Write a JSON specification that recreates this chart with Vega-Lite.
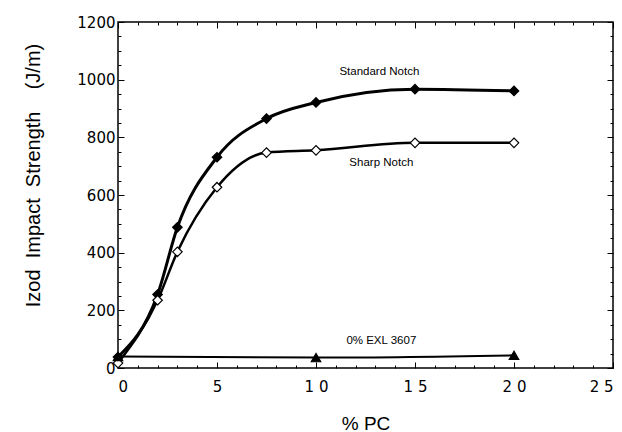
{
  "$schema": "https://vega.github.io/schema/vega-lite/v6.json",
  "width": 495,
  "height": 346,
  "autosize": {"type": "none"},
  "padding": {"left": 118, "top": 22, "right": 9, "bottom": 64},
  "background": "white",
  "config": {
    "view": {"stroke": "black", "strokeWidth": 1.5},
    "font": "Liberation Sans",
    "axis": {"domainColor": "black", "tickColor": "black", "labelColor": "black", "titleColor": "black", "grid": false, "labelFont": "DejaVu Sans", "titleFont": "Liberation Sans"}
  },
  "datasets": {
    "series": [
      {"pc": 0, "val": 38, "series": "Standard Notch"},
      {"pc": 2, "val": 255, "series": "Standard Notch"},
      {"pc": 3, "val": 488, "series": "Standard Notch"},
      {"pc": 5, "val": 731, "series": "Standard Notch"},
      {"pc": 7.5, "val": 865, "series": "Standard Notch"},
      {"pc": 10, "val": 921, "series": "Standard Notch"},
      {"pc": 15, "val": 967, "series": "Standard Notch"},
      {"pc": 20, "val": 961, "series": "Standard Notch"},
      {"pc": 0, "val": 17, "series": "Sharp Notch"},
      {"pc": 2, "val": 235, "series": "Sharp Notch"},
      {"pc": 3, "val": 403, "series": "Sharp Notch"},
      {"pc": 5, "val": 627, "series": "Sharp Notch"},
      {"pc": 7.5, "val": 747, "series": "Sharp Notch"},
      {"pc": 10, "val": 755, "series": "Sharp Notch"},
      {"pc": 15, "val": 781, "series": "Sharp Notch"},
      {"pc": 20, "val": 781, "series": "Sharp Notch"},
      {"pc": 0, "val": 40, "series": "0% EXL 3607"},
      {"pc": 10, "val": 36, "series": "0% EXL 3607"},
      {"pc": 20, "val": 44, "series": "0% EXL 3607"}
    ],
    "labels": [
      {"pc": 13.2, "val": 1025, "text": "Standard Notch"},
      {"pc": 13.3, "val": 710, "text": "Sharp Notch"},
      {"pc": 13.3, "val": 95, "text": "0% EXL 3607"}
    ]
  },
  "layer": [
    {
      "data": {"name": "series"},
      "mark": {"type": "line", "interpolate": "monotone", "color": "black"},
      "encoding": {
        "x": {"field": "pc", "type": "quantitative", "scale": {"domain": [0, 25], "nice": false},
          "axis": {"orient": "bottom", "values": [0, 5, 10, 15, 20, 25], "tickSize": -6, "tickWidth": 1, "domain": false,
            "labelExpr": "datum.value >= 10 ? floor(datum.value / 10) + ' ' + (datum.value % 10) : datum.label",
            "labelFontSize": 15, "labelPadding": 17, "title": "% PC", "titleFontSize": 19, "titleFontWeight": "normal", "titlePadding": 20}},
        "y": {"field": "val", "type": "quantitative", "scale": {"domain": [0, 1200], "nice": false},
          "axis": {"orient": "left", "values": [0, 200, 400, 600, 800, 1000, 1200], "format": "d", "tickSize": -6, "domain": false,
            "labelFontSize": 15, "labelPadding": 9, "title": "Izod\u00a0 Impact\u00a0 Strength\u00a0\u00a0\u00a0\u00a0(J/m)", "titleFontSize": 20, "titleFontWeight": "normal",
            "titleX": -85, "titleY": 153, "titleAngle": -90, "titleAlign": "center", "titleBaseline": "middle"}},
        "strokeWidth": {"field": "series", "type": "nominal", "scale": {"domain": ["Standard Notch", "Sharp Notch", "0% EXL 3607"], "range": [3, 2, 2]}, "legend": null},
        "detail": {"field": "series"}
      }
    },
    {
      "data": {"name": "series"},
      "mark": {"type": "point", "strokeWidth": 1.2, "opacity": 1, "stroke": "black"},
      "encoding": {
        "x": {"field": "pc", "type": "quantitative",
          "axis": {"orient": "bottom", "values": [1,2,3,4,6,7,8,9,11,12,13,14,16,17,18,19,21,22,23,24], "tickSize": -3, "labels": false, "domain": false, "title": null}},
        "y": {"field": "val", "type": "quantitative",
          "axis": {"orient": "left", "values": [50,100,150,250,300,350,450,500,550,650,700,750,850,900,950,1050,1100,1150], "tickSize": -3, "labels": false, "domain": false, "title": null}},
        "shape": {"field": "series", "type": "nominal", "scale": {"domain": ["Standard Notch", "Sharp Notch", "0% EXL 3607"], "range": ["diamond", "diamond", "triangle-up"]}, "legend": null},
        "fill": {"field": "series", "type": "nominal", "scale": {"domain": ["Standard Notch", "Sharp Notch", "0% EXL 3607"], "range": ["black", "white", "black"]}, "legend": null},
        "size": {"field": "series", "type": "nominal", "scale": {"domain": ["Standard Notch", "Sharp Notch", "0% EXL 3607"], "range": [90, 90, 25]}, "legend": null}
      }
    },
    {
      "data": {"name": "labels"},
      "mark": {"type": "text", "fontSize": 11.5, "color": "black", "align": "center", "baseline": "middle"},
      "encoding": {
        "x": {"field": "pc", "type": "quantitative",
          "axis": {"orient": "top", "values": [0, 5, 10, 15, 20, 25], "tickSize": -6, "labels": false, "domain": false, "title": null}},
        "y": {"field": "val", "type": "quantitative",
          "axis": {"orient": "right", "values": [0, 200, 400, 600, 800, 1000, 1200], "tickSize": -6, "labels": false, "domain": false, "title": null}},
        "text": {"field": "text"}
      }
    },
    {
      "data": {"name": "labels"},
      "mark": {"type": "point", "opacity": 0},
      "encoding": {
        "x": {"field": "pc", "type": "quantitative",
          "axis": {"orient": "top", "values": [1,2,3,4,6,7,8,9,11,12,13,14,16,17,18,19,21,22,23,24], "tickSize": -3, "labels": false, "domain": false, "title": null}},
        "y": {"field": "val", "type": "quantitative",
          "axis": {"orient": "right", "values": [50,100,150,250,300,350,450,500,550,650,700,750,850,900,950,1050,1100,1150], "tickSize": -3, "labels": false, "domain": false, "title": null}}
      }
    }
  ],
  "resolve": {"axis": {"x": "independent", "y": "independent"}}
}
